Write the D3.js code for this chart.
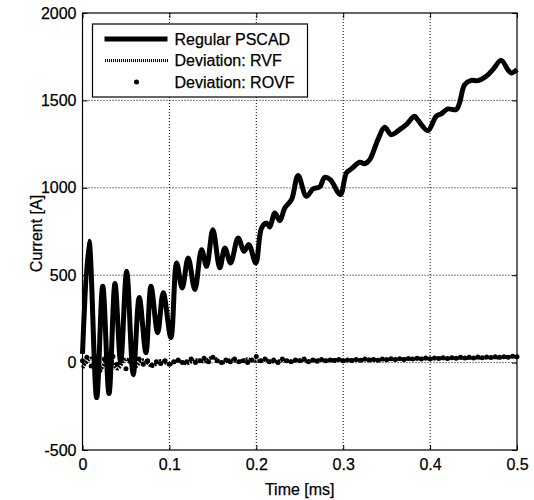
<!DOCTYPE html>
<html>
<head>
<meta charset="utf-8">
<script src="https://cdn.jsdelivr.net/npm/d3@7"></script>
<style>
  html, body { margin: 0; padding: 0; background: #fff; }
  svg { display: block; font-family: "Liberation Sans", Arial, sans-serif; }
  text { stroke: #000; stroke-width: 0.25px; }
</style>
</head>
<body>
<svg id="chart" width="534" height="500"></svg>
<script>
// Current vs time — regular PSCAD run against deviations of the two fitted models.

const X_TICKS = [0, 0.1, 0.2, 0.3, 0.4, 0.5];
const Y_TICKS = [-500, 0, 500, 1000, 1500, 2000];

// Regular PSCAD (time in ms, current in A)
const PSCAD_T = [0, 0.0075, 0.0163, 0.0233, 0.0305, 0.0374, 0.0439, 0.0508, 0.0584, 0.0653,
  0.0730, 0.0788, 0.0865, 0.0929, 0.1017, 0.1083, 0.1147, 0.1216, 0.1293, 0.1370,
  0.1428, 0.1500, 0.1580, 0.1638, 0.1704, 0.1791, 0.1859, 0.1914, 0.1994, 0.2060,
  0.2117, 0.2155, 0.2213, 0.2270, 0.2328, 0.2405, 0.2481, 0.2577, 0.2653, 0.2730,
  0.2787, 0.2852, 0.2967, 0.3037, 0.3094, 0.3190, 0.3247, 0.3305, 0.3400, 0.3477,
  0.3554, 0.3649, 0.3726, 0.3822, 0.3856, 0.3974, 0.4069, 0.4127, 0.4204, 0.4299,
  0.4339, 0.4397, 0.4473, 0.4550, 0.4646, 0.4722, 0.4818, 0.4894, 0.4933, 0.5000];
const PSCAD_I = [50, 694, -200, 437, -177, 452, 5, 522, -69, 372,
  57, 437, 171, 400, 143, 570, 427, 599, 418, 646,
  551, 760, 542, 656, 570, 713, 637, 675, 570, 770,
  799, 776, 856, 812, 885, 932, 1070, 951, 994, 1005,
  1060, 1047, 961, 1085, 1108, 1146, 1138, 1161, 1276, 1346,
  1304, 1333, 1362, 1409, 1390, 1327, 1409, 1423, 1451, 1447,
  1486, 1590, 1615, 1613, 1638, 1676, 1729, 1676, 1657, 1676];

// Deviation: RVF, every 0.01 ms
const RVF_T = d3.range(0, 51).map(i => i / 100);
const RVF_I = [-30, 25, -40, 30, -35, 20, -25, 15, -20, 10,
  -10, 10, -5, 15, 5, 30, 0, 15, 5, 20,
  8, 15, 5, 12, 8, 14, 10, 15, 12, 16,
  12, 15, 14, 18, 15, 20, 18, 22, 20, 24,
  21, 25, 23, 27, 25, 28, 27, 30, 28, 33, 32];

// Deviation: ROVF, every 0.005 ms
const ROVF_T = d3.range(0, 101).map(i => i / 200);
const ROVF_I = [10, 30, -20, 25, -45, 20, -30, 35, -10, 25,
  -35, 15, -20, 20, -10, 10, -15, 5, -5, 10,
  -10, 5, 15, 0, 5, 20, 0, 10, 25, 5,
  30, 10, 0, 15, 5, 20, 5, 10, 0, 15,
  35, 10, 20, 5, 15, 0, 20, 10, 5, 15,
  10, 20, 5, 15, 8, 18, 10, 15, 12, 18,
  10, 15, 12, 18, 14, 20, 15, 18, 14, 20,
  16, 22, 18, 22, 18, 24, 20, 25, 21, 26,
  22, 26, 23, 28, 24, 28, 25, 30, 26, 30,
  27, 32, 28, 32, 29, 34, 30, 34, 31, 36, 33];

const LEGEND = ['Regular PSCAD', 'Deviation: RVF', 'Deviation: ROVF'];

const FONT = 16;
const m = { top: 13, right: 17, bottom: 50, left: 82.5 };
const W = 534, H = 500;
const iw = W - m.left - m.right;
const ih = H - m.top - m.bottom;

const svg = d3.select('#chart');
const root = svg.append('g').attr('transform', `translate(${m.left},${m.top})`);

const x = d3.scaleLinear().domain([0, 0.5]).range([0, iw]);
const y = d3.scaleLinear().domain([-500, 2000]).range([ih, 0]);

const zip = (ts, vs) => ts.map((t, i) => ({ t, v: vs[i] }));

// grid
root.append('g').selectAll('line').data(X_TICKS.slice(1, -1)).join('line')
  .attr('x1', d => x(d)).attr('x2', d => x(d)).attr('y1', 0).attr('y2', ih)
  .attr('stroke', '#000').attr('stroke-width', 1).attr('stroke-dasharray', '1 2');
root.append('g').selectAll('line').data(Y_TICKS.slice(1, -1)).join('line')
  .attr('y1', d => y(d)).attr('y2', d => y(d)).attr('x1', 0).attr('x2', iw)
  .attr('stroke', '#000').attr('stroke-width', 1).attr('stroke-dasharray', '1 2');

const line = d3.line().x(d => x(d.t)).y(d => y(d.v)).curve(d3.curveCatmullRom.alpha(0.5));

const plot = root.append('g');
plot.append('path').datum(zip(PSCAD_T, PSCAD_I))
  .attr('fill', 'none').attr('stroke', '#000').attr('stroke-width', 5)
  .attr('stroke-linejoin', 'round').attr('d', line);
plot.append('path').datum(zip(RVF_T, RVF_I))
  .attr('fill', 'none').attr('stroke', '#000').attr('stroke-width', 3.5)
  .attr('stroke-dasharray', '2 1').attr('d', line);
plot.append('g').selectAll('circle').data(zip(ROVF_T, ROVF_I)).join('circle')
  .attr('cx', d => x(d.t)).attr('cy', d => y(d.v)).attr('r', 2.5).attr('fill', '#000');

// axes with inward ticks on all four sides
const TL = 5;
const axisStyle = g => {
  g.select('.domain').remove();
  g.selectAll('line').attr('stroke', '#000');
  g.selectAll('text').attr('fill', '#000').style('font-size', FONT + 'px')
    .style('font-family', '"Liberation Sans", Arial, sans-serif');
};
root.append('g').attr('transform', `translate(0,${ih})`)
  .call(d3.axisBottom(x).tickValues(X_TICKS).tickSize(-TL).tickPadding(9).tickFormat(d => String(d)))
  .call(axisStyle);
root.append('g')
  .call(d3.axisTop(x).tickValues(X_TICKS).tickSize(-TL).tickFormat(''))
  .call(axisStyle);
root.append('g')
  .call(d3.axisLeft(y).tickValues(Y_TICKS).tickSize(-TL).tickPadding(6).tickFormat(d => String(d)))
  .call(axisStyle);
root.append('g').attr('transform', `translate(${iw},0)`)
  .call(d3.axisRight(y).tickValues(Y_TICKS).tickSize(-TL).tickFormat(''))
  .call(axisStyle);

root.append('rect').attr('width', iw).attr('height', ih)
  .attr('fill', 'none').attr('stroke', '#000').attr('stroke-width', 1.2);

// axis labels
svg.append('text').attr('x', m.left + iw / 2).attr('y', 495)
  .attr('text-anchor', 'middle').style('font-size', FONT + 'px').text('Time [ms]');
svg.append('text')
  .attr('transform', `translate(42,${m.top + ih / 2 + 2}) rotate(-90)`)
  .attr('text-anchor', 'middle').style('font-size', FONT + 'px').text('Current [A]');

// legend
const lg = root.append('g').attr('transform', 'translate(10,11)');
lg.append('rect').attr('width', 215).attr('height', 73)
  .attr('fill', '#fff').attr('stroke', '#000').attr('stroke-width', 1.2);
const rowY = i => 15 + i * 21.5;
lg.append('line').attr('x1', 12).attr('x2', 75).attr('y1', rowY(0)).attr('y2', rowY(0))
  .attr('stroke', '#000').attr('stroke-width', 5);
lg.append('line').attr('x1', 12).attr('x2', 75).attr('y1', rowY(1)).attr('y2', rowY(1))
  .attr('stroke', '#000').attr('stroke-width', 3).attr('stroke-dasharray', '1 1')
  .attr('shape-rendering', 'crispEdges');
lg.append('circle').attr('cx', 44).attr('cy', rowY(2)).attr('r', 2.5).attr('fill', '#000');
lg.selectAll('text.lab').data(LEGEND).join('text').attr('class', 'lab')
  .attr('x', 82).attr('y', (d, i) => rowY(i)).attr('dy', '0.36em')
  .style('font-size', FONT + 'px').text(d => d);
</script>
</body>
</html>
